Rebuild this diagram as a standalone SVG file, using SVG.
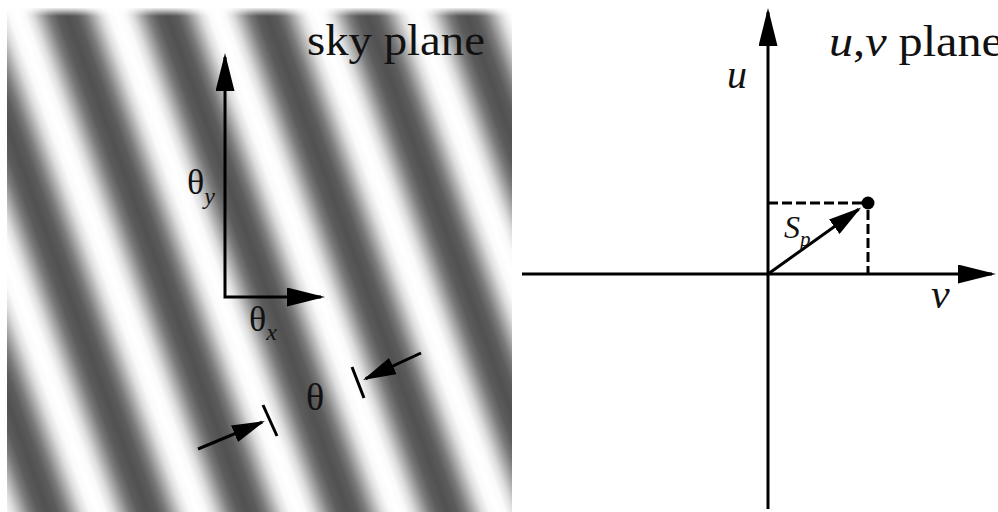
<svg xmlns="http://www.w3.org/2000/svg" width="998" height="512" viewBox="0 0 998 512">
<style>
  .ax { fill: none; stroke: #000; stroke-width: 3; }
  .dash { fill: none; stroke: #000; stroke-width: 3; stroke-dasharray: 10 4; }
  .t { font-family: "Liberation Serif", "Times New Roman", serif; fill: #111; }
  .i { font-style: italic; }
</style>
<defs>
  <linearGradient id="fringe" gradientUnits="userSpaceOnUse" x1="0" y1="0" x2="100" y2="0" spreadMethod="repeat" gradientTransform="translate(11.5 0) skewX(20)">
    <stop offset="0" stop-color="#ffffff"/>
    <stop offset="0.08" stop-color="#fafafa"/>
    <stop offset="0.16" stop-color="#dddddd"/>
    <stop offset="0.24" stop-color="#ababab"/>
    <stop offset="0.32" stop-color="#7a7a7a"/>
    <stop offset="0.4" stop-color="#5c5c5c"/>
    <stop offset="0.5" stop-color="#515151"/>
    <stop offset="0.6" stop-color="#5c5c5c"/>
    <stop offset="0.68" stop-color="#7a7a7a"/>
    <stop offset="0.76" stop-color="#ababab"/>
    <stop offset="0.84" stop-color="#dddddd"/>
    <stop offset="0.92" stop-color="#fafafa"/>
    <stop offset="1" stop-color="#ffffff"/>
  </linearGradient>
  <linearGradient id="topfade" x1="0" y1="0" x2="0" y2="1">
    <stop offset="0" stop-color="#fff" stop-opacity="0.9"/>
    <stop offset="1" stop-color="#fff" stop-opacity="0"/>
  </linearGradient>
  <marker id="big" viewBox="0 0 38 19" refX="34" refY="9.5" markerWidth="38" markerHeight="19" markerUnits="userSpaceOnUse" orient="auto-start-reverse">
    <path d="M0,0 L38,9.5 L0,19 z" fill="#000"/>
  </marker>
  <marker id="small" viewBox="0 0 33 18" refX="30" refY="9" markerWidth="33" markerHeight="18" markerUnits="userSpaceOnUse" orient="auto">
    <path d="M0,0 L33,9 L0,18 z" fill="#000"/>
  </marker>
</defs>
<rect width="998" height="512" fill="#fff"/>

<g id="sky-plane">
  <rect x="7" y="8" width="505" height="504" fill="url(#fringe)"/>
  <rect x="7" y="8" width="505" height="8" fill="url(#topfade)"/>
  <text class="t" x="307" y="55" font-size="44" textLength="178" lengthAdjust="spacingAndGlyphs">sky plane</text>
</g>

<g id="uv-plane-label">
  <text class="t" x="829" y="56" font-size="44" textLength="174" lengthAdjust="spacingAndGlyphs"><tspan class="i">u</tspan>,<tspan class="i">v</tspan> plane</text>
</g>

<g id="connectors">
  <path class="ax" d="M225,57 V297 H321" marker-start="url(#big)" marker-end="url(#big)" stroke-linejoin="miter"/>
  <line class="ax" x1="198" y1="449" x2="262.2" y2="422.2" marker-end="url(#small)"/>
  <line class="ax" x1="263" y1="405" x2="277" y2="436"/>
  <line class="ax" x1="421" y1="353" x2="365.7" y2="378.7" marker-end="url(#small)"/>
  <line class="ax" x1="352" y1="367" x2="364" y2="398"/>

  <line class="ax" x1="768" y1="509" x2="768" y2="12" marker-end="url(#big)"/>
  <line class="ax" x1="522" y1="274" x2="992" y2="274" marker-end="url(#big)"/>
  <line class="ax" x1="768" y1="274" x2="858.7" y2="209.3" marker-end="url(#small)"/>
  <path class="dash" d="M768,203 H862"/>
  <path class="dash" d="M868,210 V274"/>
</g>

<g id="theta-y">
  <text class="t" x="187" y="194" font-size="36">θ<tspan class="i" font-size="24" dy="10">y</tspan></text>
</g>
<g id="theta-x">
  <text class="t" x="249" y="331" font-size="36">θ<tspan class="i" font-size="24" dy="9">x</tspan></text>
</g>
<g id="theta">
  <text class="t" x="306" y="410" font-size="38">θ</text>
</g>
<g id="u-label">
  <text class="t i" x="727" y="88" font-size="40">u</text>
</g>
<g id="v-label">
  <text class="t i" x="931" y="308" font-size="42">v</text>
</g>
<g id="point">
  <circle cx="868" cy="203" r="6.5" fill="#000"/>
  <text class="t i" x="784" y="238" font-size="32">S<tspan font-size="21" dy="8">p</tspan></text>
</g>
</svg>
